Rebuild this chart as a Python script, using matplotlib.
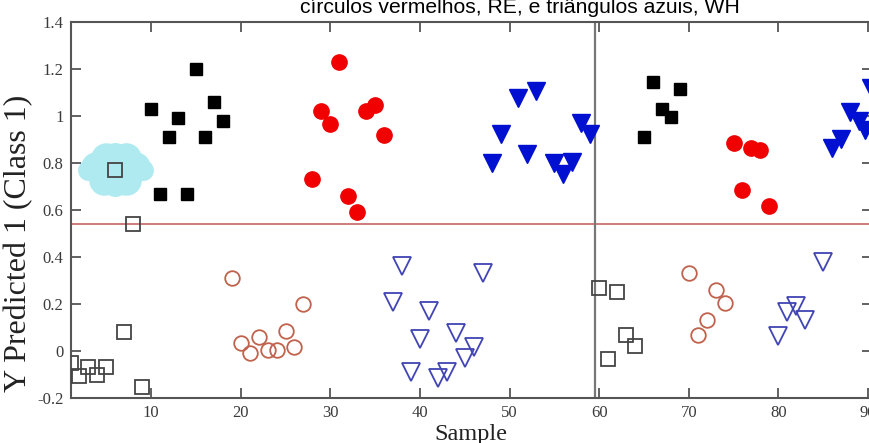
import matplotlib
matplotlib.use("Agg")
import matplotlib.pyplot as plt
from matplotlib.transforms import offset_copy

# Sample index and predicted response, grouped by marker type
open_sq_x = [1, 2, 3, 4, 5, 6, 7, 8, 9, 60, 61, 62, 63, 64]
open_sq_y = [-0.05, -0.105, -0.07, -0.10, -0.07, 0.77, 0.08, 0.54, -0.155,
             0.27, -0.035, 0.25, 0.07, 0.02]

filled_sq_x = [10, 11, 12, 13, 14, 15, 16, 17, 18, 65, 66, 67, 68, 69]
filled_sq_y = [1.03, 0.67, 0.91, 0.99, 0.67, 1.20, 0.91, 1.06, 0.98,
               0.91, 1.145, 1.03, 0.995, 1.115]

open_circ_x = [19, 20, 21, 22, 23, 24, 25, 26, 27, 70, 71, 72, 73, 74]
open_circ_y = [0.31, 0.035, -0.01, 0.06, 0.005, 0.005, 0.085, 0.015, 0.20,
               0.33, 0.07, 0.13, 0.26, 0.205]

filled_circ_x = [28, 29, 30, 31, 32, 33, 34, 35, 36, 75, 76, 77, 78, 79]
filled_circ_y = [0.73, 1.02, 0.965, 1.23, 0.66, 0.59, 1.02, 1.045, 0.92,
                 0.885, 0.685, 0.865, 0.855, 0.615]

open_tri_x = [37, 38, 39, 40, 41, 42, 43, 44, 45, 46, 47, 80, 81, 82, 83, 85]
open_tri_y = [0.21, 0.36, -0.09, 0.05, 0.17, -0.115, -0.09, 0.075, -0.03, 0.015,
              0.33, 0.065, 0.165, 0.19, 0.13, 0.38]

filled_tri_x = [48, 49, 51, 52, 53, 55, 56, 57, 58, 59, 86, 87, 88, 89, 89.7, 90.3]
filled_tri_y = [0.80, 0.925, 1.075, 0.84, 1.105, 0.80, 0.755, 0.805, 0.97, 0.925,
                0.865, 0.90, 1.015, 0.98, 0.94, 1.12]

threshold = 0.54
split_sample = 59.5
highlight_idx = 5  # open square shown inside the cloud

x_ticks = [10, 20, 30, 40, 50, 60, 70, 80, 90]
y_ticks = [-0.2, 0, 0.2, 0.4, 0.6, 0.8, 1.0, 1.2, 1.4]
y_tick_labels = ["-0.2", "0", "0.2", "0.4", "0.6", "0.8", "1", "1.2", "1.4"]

caption = "círculos vermelhos, RE, e triângulos azuis, WH"

W, H = 869, 443
fig = plt.figure(figsize=(W / 100, H / 100), dpi=100)
ax = fig.add_axes([70.5 / W, 45 / H, 801 / W, 376 / H])

serif = ["Liberation Serif", "DejaVu Serif"]
spine_col = "#555555"

# highlight cloud behind the marked sample
cloud_col = "#b0eaf1"
hx, hy = open_sq_x[highlight_idx], open_sq_y[highlight_idx]
puffs = [(0, 0, 34), (-14, 2, 22), (14, 2, 22), (-7, 9, 22), (8, 9, 22),
         (-8, -7, 22), (8, -7, 22), (-20, 0, 15), (20, 0, 15), (0, 11, 18),
         (0, -10, 18)]
for dx, dy, s in puffs:
    tr = offset_copy(ax.transData, fig=fig, x=dx, y=dy, units="points")
    ax.plot([hx], [hy], "o", ms=s, color=cloud_col, mec="none",
            transform=tr, zorder=1)

# reference lines
ax.axhline(threshold, color="#cc7070", lw=1.3, zorder=2)
ax.axvline(split_sample, color="#777777", lw=1.6, zorder=2)

ax.plot(open_sq_x, open_sq_y, "s", ms=9.5, mfc="none", mec="#444444",
        mew=1.3, zorder=4)
ax.plot(filled_sq_x, filled_sq_y, "s", ms=8.5, color="black", zorder=4)
ax.plot(open_circ_x, open_circ_y, "o", ms=10.5, mfc="none", mec="#c0624c",
        mew=1.3, zorder=4)
ax.plot(filled_circ_x, filled_circ_y, "o", ms=11, color="#f00000", zorder=4)
ax.plot(open_tri_x, open_tri_y, "v", ms=12.5, mfc="none", mec="#4044b4",
        mew=1.3, zorder=4)
ax.plot(filled_tri_x, filled_tri_y, "v", ms=12.5, color="#0010d0",
        mec="#0010d0", zorder=4)

ax.set_xlim(1, 90.4)
ax.set_ylim(-0.2, 1.4)
ax.set_xticks(x_ticks)
ax.set_yticks(y_ticks)
ax.set_yticklabels(y_tick_labels)

for sp in ax.spines.values():
    sp.set_color(spine_col)
    sp.set_linewidth(1.5)

ax.tick_params(direction="in", length=7, width=1.3, color=spine_col,
               top=True, right=True, labelsize=12, labelcolor="#3a3a3a",
               pad=5)
for lab in ax.get_xticklabels() + ax.get_yticklabels():
    lab.set_family(serif)

ax.set_xlabel("Sample", family=serif, fontsize=17.5, color="#222222",
              labelpad=2)
ax.set_ylabel("Y Predicted 1 (Class 1)", family=serif, fontsize=23,
              color="#222222")
ax.yaxis.set_label_coords(-0.046, 0.412)

fig.text(0.598, (H - 13) / H, caption, ha="center", va="baseline",
         family=["Liberation Sans", "DejaVu Sans"], fontsize=15.2, color="black")

fig.savefig("out.png", dpi=100)
